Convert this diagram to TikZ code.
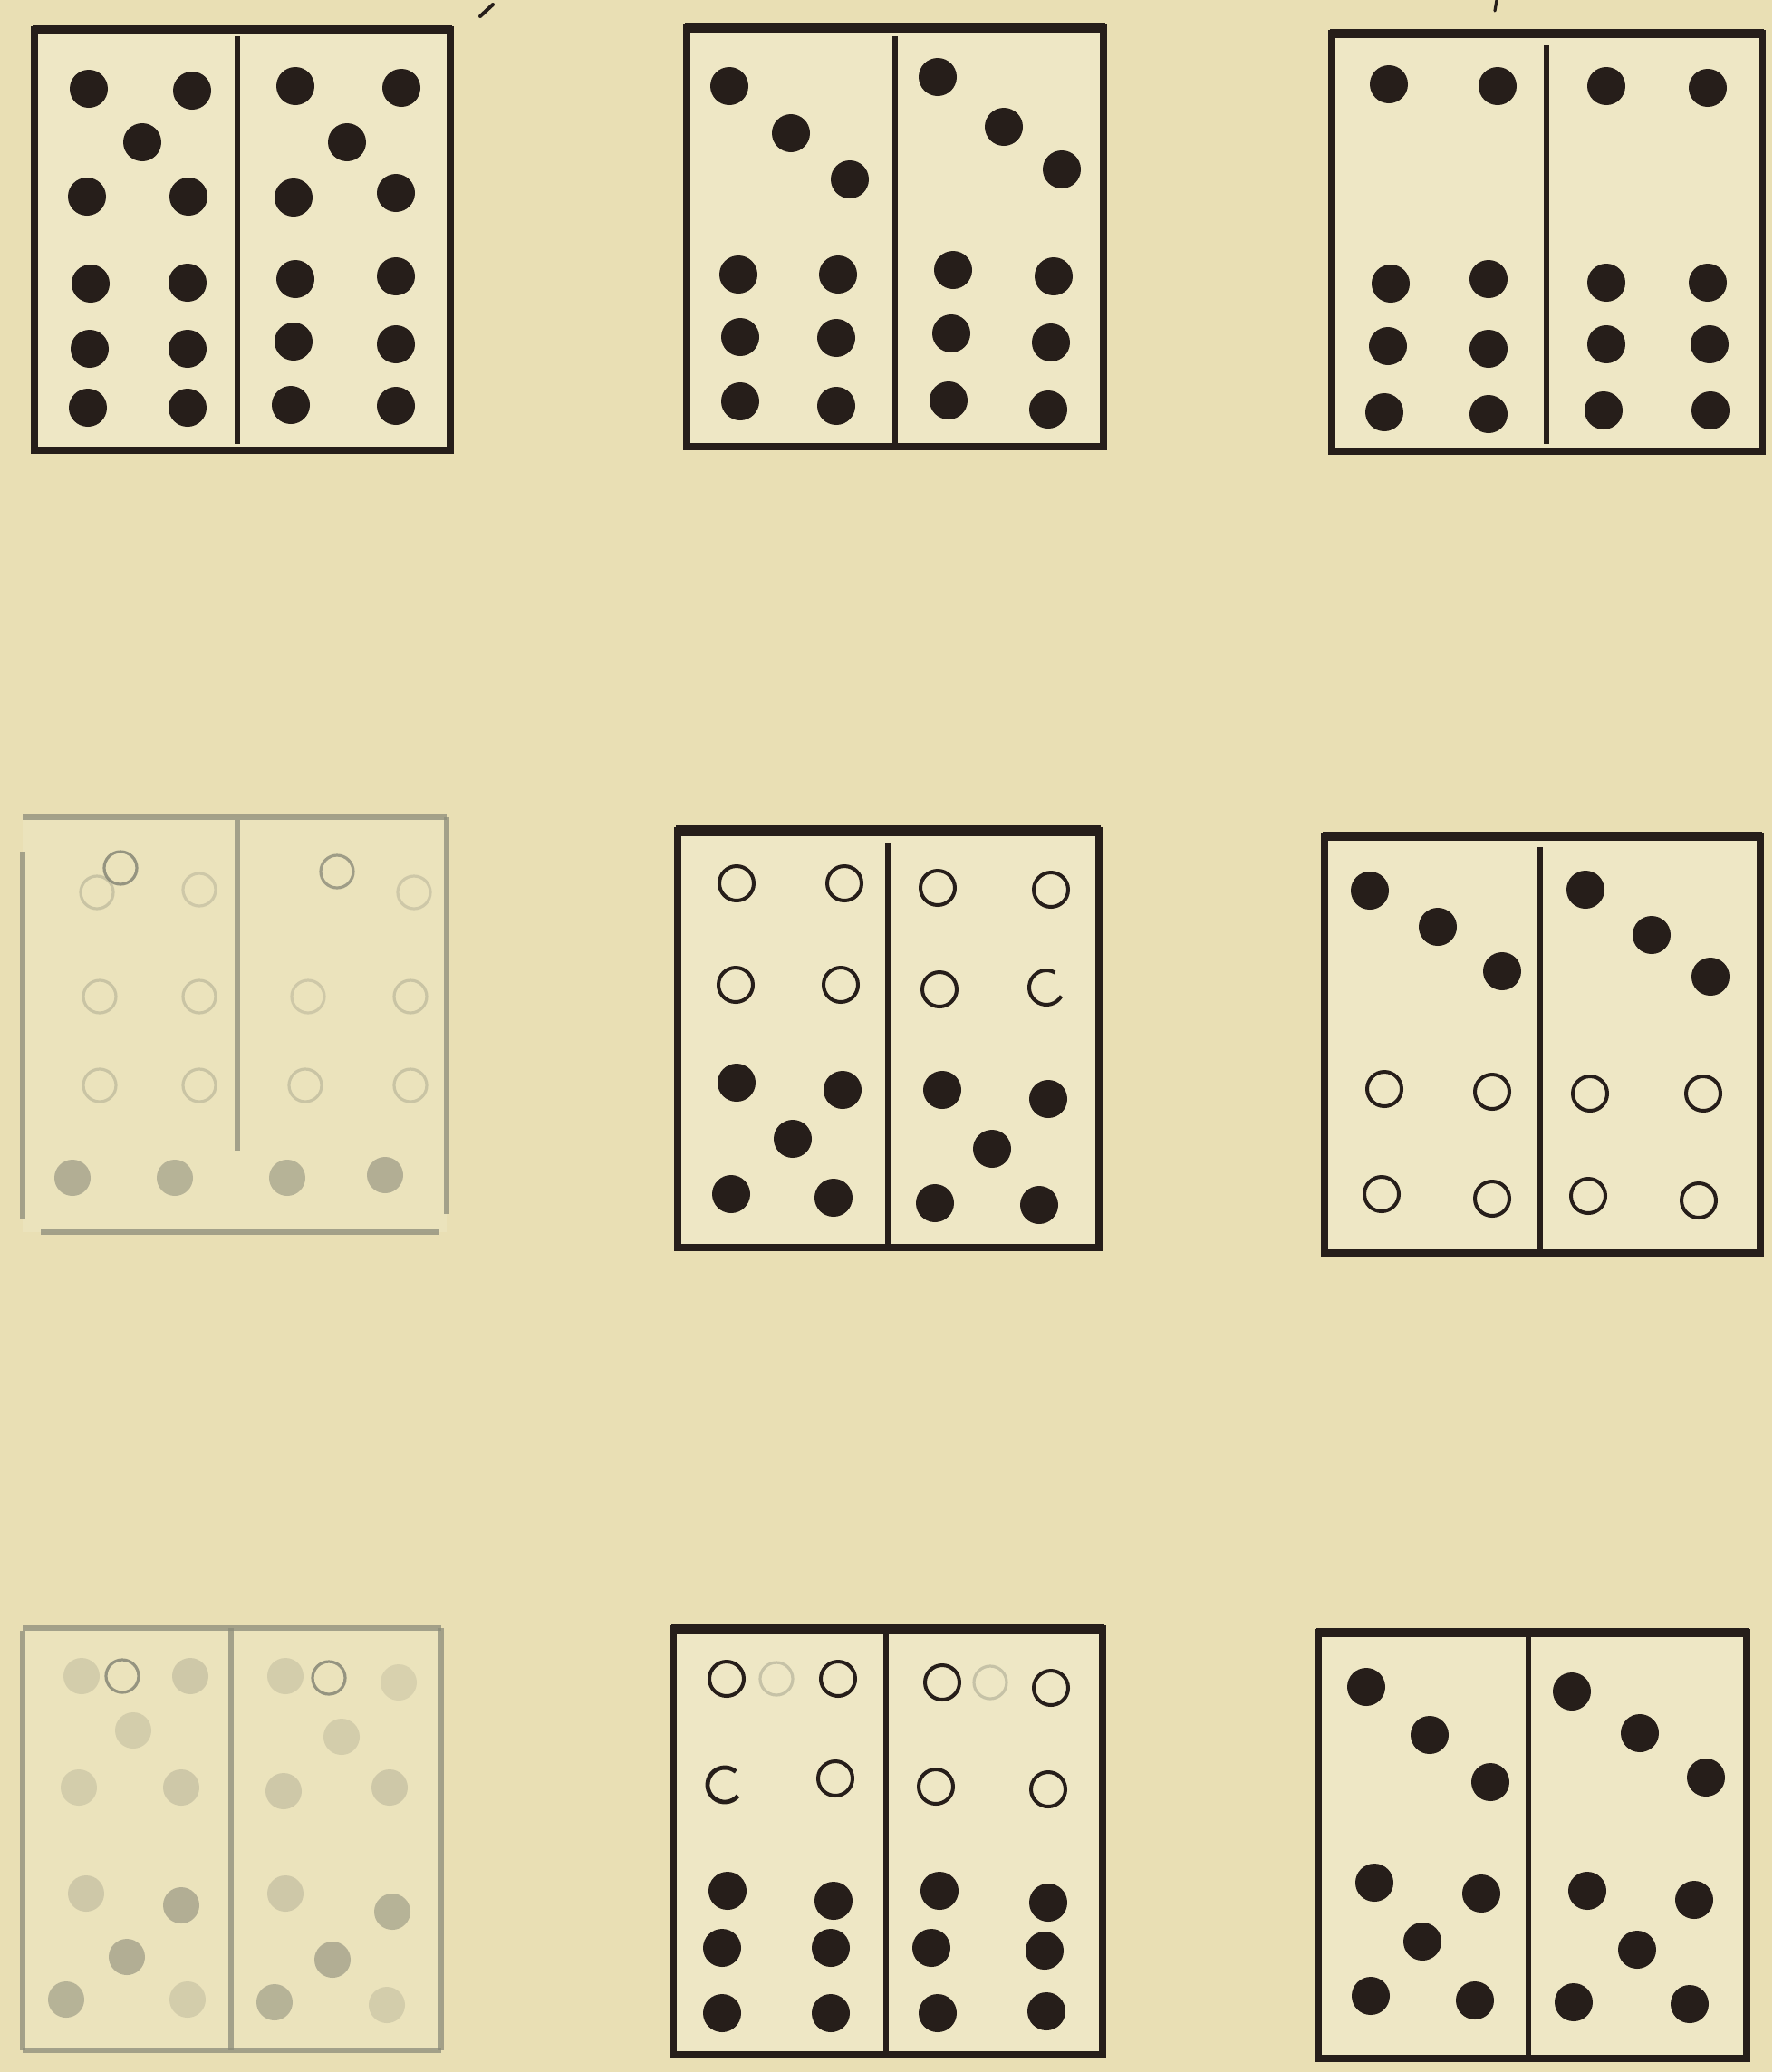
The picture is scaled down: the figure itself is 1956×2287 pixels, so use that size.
\documentclass[tikz,border=0pt]{standalone}
\definecolor{paper}{RGB}{233,223,180}
\definecolor{tilebg}{RGB}{238,231,197}
\definecolor{inkc}{RGB}{38,30,26}
\definecolor{greyc}{RGB}{140,140,122}
\definecolor{ghost}{RGB}{175,172,150}
\newcommand\dt[2]{\fill[inkc] (#1,#2) circle[radius=10.5pt];}
\newcommand\oc[2]{\draw[inkc,line width=2pt] (#1,#2) circle[radius=9.5pt];}
\newcommand\gd[3]{\fill[greyc,opacity=#3] (#1,#2) circle[radius=10pt];}
\newcommand\go[3]{\draw[greyc,opacity=#3,line width=1.6pt] (#1,#2) circle[radius=9pt];}
\tikzset{
  tileline/.style={inkc,line width=4pt},
  divline/.style={inkc,line width=2.6pt},
  faintline/.style={greyc,line width=2.6pt,opacity=0.75},
}
\begin{document}
\begin{tikzpicture}[x=0.5pt,y=-0.5pt]
\fill[paper] (0,0) rectangle (1956,2287);
\path[use as bounding box] (0,0) rectangle (1956,2287);

% ---------- Tile 1 (top-left)
\fill[tilebg] (38,33) rectangle (497,497);
\draw[tileline] (38,33) rectangle (497,497);
\draw[tileline,line width=5pt] (36,33) -- (499,33);
\draw[divline] (262,40) -- (262,490);
\dt{98}{98}\dt{212}{100}\dt{157}{157}
\dt{96}{217}\dt{208}{217}
\dt{100}{313}\dt{207}{312}
\dt{99}{385}\dt{207}{385}
\dt{97}{450}\dt{207}{450}
\dt{326}{95}\dt{443}{97}\dt{383}{157}
\dt{324}{218}\dt{437}{213}
\dt{326}{308}\dt{437}{305}
\dt{324}{377}\dt{437}{380}
\dt{321}{447}\dt{437}{448}

% ---------- Tile 2 (top-middle)
\fill[tilebg] (758,30) rectangle (1218,493);
\draw[tileline] (758,30) rectangle (1218,493);
\draw[tileline,line width=5.5pt] (756,30) -- (1220,30);
\draw[divline] (988,40) -- (988,490);
\dt{805}{95}\dt{873}{147}\dt{938}{198}
\dt{815}{303}\dt{925}{303}
\dt{817}{372}\dt{923}{373}
\dt{817}{443}\dt{923}{448}
\dt{1035}{85}\dt{1108}{140}\dt{1172}{187}
\dt{1052}{298}\dt{1163}{305}
\dt{1050}{368}\dt{1160}{378}
\dt{1047}{442}\dt{1157}{452}

% ---------- Tile 3 (top-right)
\fill[tilebg] (1470,37) rectangle (1945,498);
\draw[tileline] (1470,37) rectangle (1945,498);
\draw[tileline,line width=5pt] (1468,37) -- (1947,37);
\draw[divline] (1707,50) -- (1707,490);
\dt{1533}{93}\dt{1653}{95}
\dt{1535}{313}\dt{1643}{308}
\dt{1532}{382}\dt{1643}{385}
\dt{1528}{455}\dt{1643}{457}
\dt{1773}{95}\dt{1885}{97}
\dt{1773}{312}\dt{1885}{312}
\dt{1773}{380}\dt{1887}{380}
\dt{1770}{453}\dt{1888}{453}
% small marks at the top edge
\draw[inkc,line width=2pt,line cap=round] (544,5) -- (530,18);
\draw[inkc,line width=1.6pt,line cap=round] (1652,0) -- (1650,12);

% ---------- Tile 4 (middle-left, faint)
\fill[tilebg,opacity=0.5] (25,902) rectangle (493,1360);
\draw[faintline] (25,902) -- (493,902);
\draw[faintline] (25,940) -- (25,1345);
\draw[faintline] (493,902) -- (493,1340);
\draw[faintline] (45,1360) -- (485,1360);
\draw[faintline] (262,905) -- (262,1270);
\go{133}{958}{0.9}\go{372}{962}{0.8}
\go{107}{985}{0.35}\go{220}{982}{0.3}\go{457}{985}{0.3}
\go{110}{1100}{0.35}\go{220}{1100}{0.35}\go{340}{1100}{0.3}\go{453}{1100}{0.35}
\go{110}{1198}{0.35}\go{220}{1198}{0.35}\go{337}{1198}{0.35}\go{453}{1198}{0.35}
\gd{80}{1300}{0.6}\gd{193}{1300}{0.55}\gd{317}{1300}{0.55}\gd{425}{1297}{0.6}

% ---------- Tile 5 (middle-middle)
\fill[tilebg] (748,917) rectangle (1213,1377);
\draw[tileline] (748,917) rectangle (1213,1377);
\draw[tileline,line width=6pt] (746,917) -- (1215,917);
\draw[divline] (980,930) -- (980,1375);
\oc{813}{975}\oc{932}{975}\oc{1035}{980}\oc{1160}{982}
\oc{812}{1087}\oc{928}{1087}\oc{1037}{1092}
\draw[inkc,line width=2pt] (1155,1090) ++(60:9.5pt) arc[start angle=60,end angle=330,radius=9.5pt];
\dt{813}{1195}\dt{930}{1203}\dt{875}{1257}
\dt{807}{1318}\dt{920}{1322}
\dt{1040}{1203}\dt{1157}{1213}\dt{1095}{1268}
\dt{1032}{1328}\dt{1147}{1330}

% ---------- Tile 6 (middle-right)
\fill[tilebg] (1462,923) rectangle (1943,1383);
\draw[tileline] (1462,923) rectangle (1943,1383);
\draw[tileline,line width=5pt] (1460,923) -- (1945,923);
\draw[divline] (1700,935) -- (1700,1383);
\dt{1512}{983}\dt{1587}{1023}\dt{1658}{1072}
\dt{1750}{982}\dt{1823}{1032}\dt{1888}{1078}
\oc{1528}{1202}\oc{1647}{1205}\oc{1755}{1207}\oc{1880}{1207}
\oc{1525}{1318}\oc{1647}{1323}\oc{1753}{1320}\oc{1875}{1325}

% ---------- Tile 7 (bottom-left, faint)
\fill[tilebg,opacity=0.5] (25,1797) rectangle (487,2263);
\draw[faintline] (25,1797) -- (487,1797);
\draw[faintline] (25,1800) -- (25,2263);
\draw[faintline] (487,1797) -- (487,2263);
\draw[faintline] (25,2263) -- (487,2263);
\draw[faintline] (255,1797) -- (255,2263);
\go{135}{1850}{0.9}\go{363}{1852}{0.9}
\gd{90}{1850}{0.25}\gd{210}{1850}{0.3}\gd{147}{1910}{0.25}
\gd{87}{1973}{0.25}\gd{200}{1973}{0.3}
\gd{95}{2090}{0.3}\gd{200}{2103}{0.6}\gd{140}{2160}{0.6}
\gd{73}{2207}{0.55}\gd{207}{2207}{0.25}
\gd{315}{1850}{0.25}\gd{440}{1857}{0.2}\gd{377}{1917}{0.25}
\gd{313}{1977}{0.3}\gd{430}{1973}{0.3}
\gd{315}{2090}{0.3}\gd{433}{2110}{0.55}\gd{367}{2163}{0.6}
\gd{303}{2210}{0.55}\gd{427}{2213}{0.25}

% ---------- Tile 8 (bottom-middle)
\fill[tilebg] (743,1798) rectangle (1217,2268);
\draw[tileline] (743,1798) rectangle (1217,2268);
\draw[tileline,line width=6pt] (741,1798) -- (1219,1798);
\draw[divline,line width=3.2pt] (978,1800) -- (978,2268);
\go{857}{1853}{0.4}\go{1093}{1857}{0.4}
\oc{802}{1853}\oc{925}{1853}\oc{1040}{1857}\oc{1160}{1863}
\draw[inkc,line width=2.4pt] (800,1970) ++(50:9.5pt) arc[start angle=50,end angle=320,radius=9.5pt];
\oc{922}{1963}\oc{1033}{1972}\oc{1157}{1975}
\dt{803}{2087}\dt{920}{2098}\dt{1037}{2087}\dt{1157}{2100}
\dt{797}{2150}\dt{917}{2150}\dt{1028}{2150}\dt{1153}{2153}
\dt{797}{2222}\dt{917}{2222}\dt{1035}{2222}\dt{1155}{2220}

% ---------- Tile 9 (bottom-right)
\fill[tilebg] (1455,1802) rectangle (1928,2272);
\draw[tileline] (1455,1802) rectangle (1928,2272);
\draw[tileline,line width=5pt] (1453,1802) -- (1930,1802);
\draw[divline,line width=3.2pt] (1687,1805) -- (1687,2272);
\dt{1508}{1862}\dt{1578}{1915}\dt{1645}{1967}
\dt{1517}{2078}\dt{1635}{2090}\dt{1570}{2143}
\dt{1513}{2203}\dt{1628}{2208}
\dt{1735}{1867}\dt{1810}{1913}\dt{1883}{1962}
\dt{1752}{2087}\dt{1870}{2097}\dt{1807}{2152}
\dt{1737}{2210}\dt{1865}{2212}
\end{tikzpicture}
\end{document}
